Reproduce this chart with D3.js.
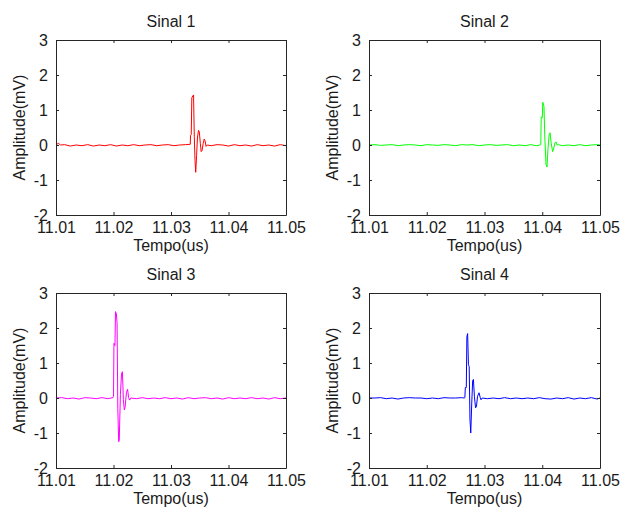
<!DOCTYPE html>
<html><head><meta charset="utf-8">
<script src="https://cdn.jsdelivr.net/npm/d3@7"></script>
<style>body{margin:0;background:#fff;} text{font-family:"Liberation Sans",Arial,sans-serif;}</style>
</head><body><svg id="c" width="622" height="511"></svg>
<script>
const titles = ["Sinal 1", "Sinal 2", "Sinal 3", "Sinal 4"];
const xTicks = [11.01, 11.02, 11.03, 11.04, 11.05];
const yTicks = [-2, -1, 0, 1, 2, 3];
const xLabel = "Tempo(us)";
const yLabel = "Amplitude(mV)";
const colors = ["#ff0000", "#00ff00", "#ff00ff", "#0000ff"];

const sinal1 = [
  [11.0100,0.00],[11.0104,0.05],[11.0108,0.00],[11.0115,0.01],[11.0125,-0.03],[11.0135,0.00],[11.0145,-0.02],
  [11.0155,0.01],[11.0165,-0.03],[11.0175,0.00],[11.0185,-0.02],[11.0195,0.01],[11.0205,-0.03],[11.0215,0.00],
  [11.0225,-0.02],[11.0235,0.01],[11.0245,-0.02],[11.0255,0.00],[11.0265,0.01],[11.0275,-0.02],[11.0285,0.00],
  [11.0295,0.01],[11.0305,-0.02],[11.0315,0.00],[11.0325,0.01],
  [11.03335,0.02],[11.03340,0.28],[11.03352,0.30],[11.03362,1.35],[11.03378,1.40],[11.03392,1.43],[11.03405,0.25],
  [11.03418,-0.45],[11.03430,-0.78],[11.03445,-0.30],[11.03460,0.20],[11.03478,0.42],[11.03492,0.38],[11.03510,0.05],
  [11.03525,-0.19],[11.03540,-0.16],[11.03560,0.05],[11.03578,0.17],[11.03592,0.12],[11.03610,-0.04],[11.03630,0.00],
  [11.0370,-0.02],[11.0380,0.01],[11.0390,0.00],[11.0400,-0.03],[11.0410,0.01],[11.0420,-0.02],[11.0430,0.00],
  [11.0440,-0.03],[11.0450,0.01],[11.0460,-0.02],[11.0470,0.00],[11.0480,-0.03],[11.0490,0.01],[11.0500,-0.02]
];
const sinal2 = [
  [11.0100,0.00],[11.0110,0.01],[11.0120,-0.01],[11.0130,0.00],[11.0140,0.01],[11.0150,-0.02],[11.0160,0.00],
  [11.0170,0.01],[11.0180,0.00],[11.0190,-0.02],[11.0200,0.01],[11.0210,0.00],[11.0220,-0.01],[11.0230,0.01],
  [11.0240,0.00],[11.0250,-0.02],[11.0260,0.01],[11.0270,0.00],[11.0280,0.01],[11.0290,-0.02],[11.0300,0.00],
  [11.0310,0.01],[11.0320,-0.01],[11.0330,0.00],[11.0340,0.01],[11.0350,-0.02],[11.0360,0.00],[11.0370,-0.02],
  [11.0380,0.01],[11.0390,-0.02],[11.03965,0.00],
  [11.03975,0.01],[11.03982,0.80],[11.04000,0.78],[11.04010,1.22],[11.04030,1.10],[11.04045,0.20],[11.04065,-0.55],
  [11.04082,-0.63],[11.04100,-0.10],[11.04120,0.30],[11.04135,0.35],[11.04155,0.05],[11.04180,-0.19],[11.04195,-0.12],
  [11.04220,0.06],[11.04238,0.09],[11.04258,0.00],[11.04280,0.01],
  [11.0435,-0.02],[11.0445,0.00],[11.0455,-0.02],[11.0465,0.01],[11.0475,-0.02],[11.0485,0.00],[11.0495,0.01],[11.0500,0.00]
];
const sinal3 = [
  [11.0100,0.00],[11.0110,0.01],[11.0120,-0.02],[11.0130,0.00],[11.0140,-0.03],[11.0150,0.01],[11.0160,0.00],
  [11.0170,-0.02],[11.0180,0.01],[11.0190,-0.02],[11.01990,0.01],
  [11.02000,0.05],[11.02008,1.56],[11.02025,1.50],[11.02035,2.47],[11.02050,2.40],[11.02062,2.14],[11.02075,-0.30],
  [11.02090,-1.25],[11.02100,-1.20],[11.02120,0.10],[11.02140,0.70],[11.02155,0.75],[11.02172,-0.05],[11.02188,-0.34],
  [11.02200,-0.28],[11.02225,0.15],[11.02245,0.25],[11.02262,0.02],[11.02280,-0.06],[11.02300,0.00],
  [11.0240,-0.02],[11.0250,0.01],[11.0260,-0.02],[11.0270,0.00],[11.0280,-0.02],[11.0290,0.01],[11.0300,-0.02],
  [11.0310,0.00],[11.0320,-0.03],[11.0330,0.01],[11.0340,-0.02],[11.0350,0.00],[11.0360,0.01],[11.0370,-0.02],
  [11.0380,0.00],[11.0390,-0.03],[11.0400,0.01],[11.0410,-0.02],[11.0420,0.00],[11.0430,-0.02],[11.0440,0.01],
  [11.0450,-0.02],[11.0460,0.00],[11.0470,-0.03],[11.0480,0.01],[11.0490,-0.02],[11.0500,0.00]
];
const sinal4 = [
  [11.0100,0.00],[11.0110,0.00],[11.0120,0.01],[11.0130,-0.02],[11.0140,0.00],[11.0150,-0.03],[11.0160,0.00],
  [11.0170,0.01],[11.0180,0.00],[11.0190,0.00],[11.0200,-0.02],[11.0210,0.00],[11.0220,-0.02],[11.0230,0.01],
  [11.0240,0.00],[11.0250,0.00],[11.0260,0.01],[11.02650,0.00],
  [11.02660,0.01],[11.02668,0.30],[11.02685,0.30],[11.02695,1.75],[11.02708,1.84],[11.02722,0.95],[11.02735,0.90],
  [11.02748,-0.60],[11.02762,-1.00],[11.02778,-0.20],[11.02795,0.50],[11.02808,0.53],[11.02825,0.05],[11.02845,-0.28],
  [11.02860,-0.25],[11.02880,0.05],[11.02905,0.15],[11.02925,0.02],[11.02940,-0.05],[11.02960,0.00],
  [11.0305,-0.02],[11.0315,0.00],[11.0325,-0.02],[11.0335,0.01],[11.0345,-0.02],[11.0355,0.00],[11.0365,-0.02],
  [11.0375,0.00],[11.0385,-0.02],[11.0395,0.01],[11.0405,-0.02],[11.0415,-0.03],[11.0425,0.00],[11.0435,-0.02],
  [11.0445,0.01],[11.0455,-0.03],[11.0465,0.00],[11.0475,-0.02],[11.0485,0.01],[11.0495,-0.03],[11.0500,0.00]
];
const signals = [sinal1, sinal2, sinal3, sinal4];

const svg = d3.select("#c");
const panels = [
  {x: 56, y: 40, w: 230, h: 175},
  {x: 369, y: 40, w: 231, h: 175},
  {x: 56, y: 293, w: 230, h: 175},
  {x: 369, y: 293, w: 231, h: 175}
];
const textColor = "#1a1a1a";
const axisColor = "#262626";

panels.forEach((p, i) => {
  const g = svg.append("g").attr("transform", `translate(${p.x},${p.y})`);
  const x = d3.scaleLinear().domain([xTicks[0], xTicks[xTicks.length - 1]]).range([0, p.w]);
  const y = d3.scaleLinear().domain([yTicks[0], yTicks[yTicks.length - 1]]).range([p.h, 0]);

  g.append("rect").attr("width", p.w).attr("height", p.h).attr("fill", "#fff");

  const line = d3.line().x(d => x(d[0])).y(d => y(d[1]));
  g.append("path").datum(signals[i]).attr("d", line)
    .attr("fill", "none").attr("stroke", colors[i]).attr("stroke-width", 1)
    .attr("stroke-linejoin", "miter");

  const fmtX = d3.format(".2f");
  const fmtY = d => String(d);
  const ax = [
    g.append("g").attr("transform", `translate(0,${p.h})`)
      .call(d3.axisBottom(x).tickValues(xTicks).tickFormat(fmtX).tickSizeInner(-3).tickSizeOuter(0).tickPadding(7)),
    g.append("g")
      .call(d3.axisTop(x).tickValues(xTicks).tickFormat("").tickSizeInner(-3).tickSizeOuter(0)),
    g.append("g")
      .call(d3.axisLeft(y).tickValues(yTicks).tickFormat(fmtY).tickSizeInner(-3).tickSizeOuter(0).tickPadding(8)),
    g.append("g").attr("transform", `translate(${p.w},0)`)
      .call(d3.axisRight(y).tickValues(yTicks).tickFormat("").tickSizeInner(-3).tickSizeOuter(0))
  ];
  ax.forEach(a => {
    a.select(".domain").attr("stroke", axisColor);
    a.selectAll(".tick line").attr("stroke", axisColor);
    a.selectAll("text").attr("font-size", 16).attr("fill", textColor)
      .style("font-family", '"Liberation Sans", Arial, sans-serif');
  });

  g.append("text").attr("x", p.w / 2).attr("y", -13).attr("text-anchor", "middle")
    .attr("font-size", 16).attr("fill", textColor).text(titles[i]);
  g.append("text").attr("x", p.w / 2).attr("y", p.h + 36).attr("text-anchor", "middle")
    .attr("font-size", 16).attr("fill", textColor).text(xLabel);
  g.append("text").attr("transform", `translate(-31,${p.h / 2}) rotate(-90)`).attr("text-anchor", "middle")
    .attr("font-size", 16).attr("fill", textColor).text(yLabel);
});
</script></body></html>
